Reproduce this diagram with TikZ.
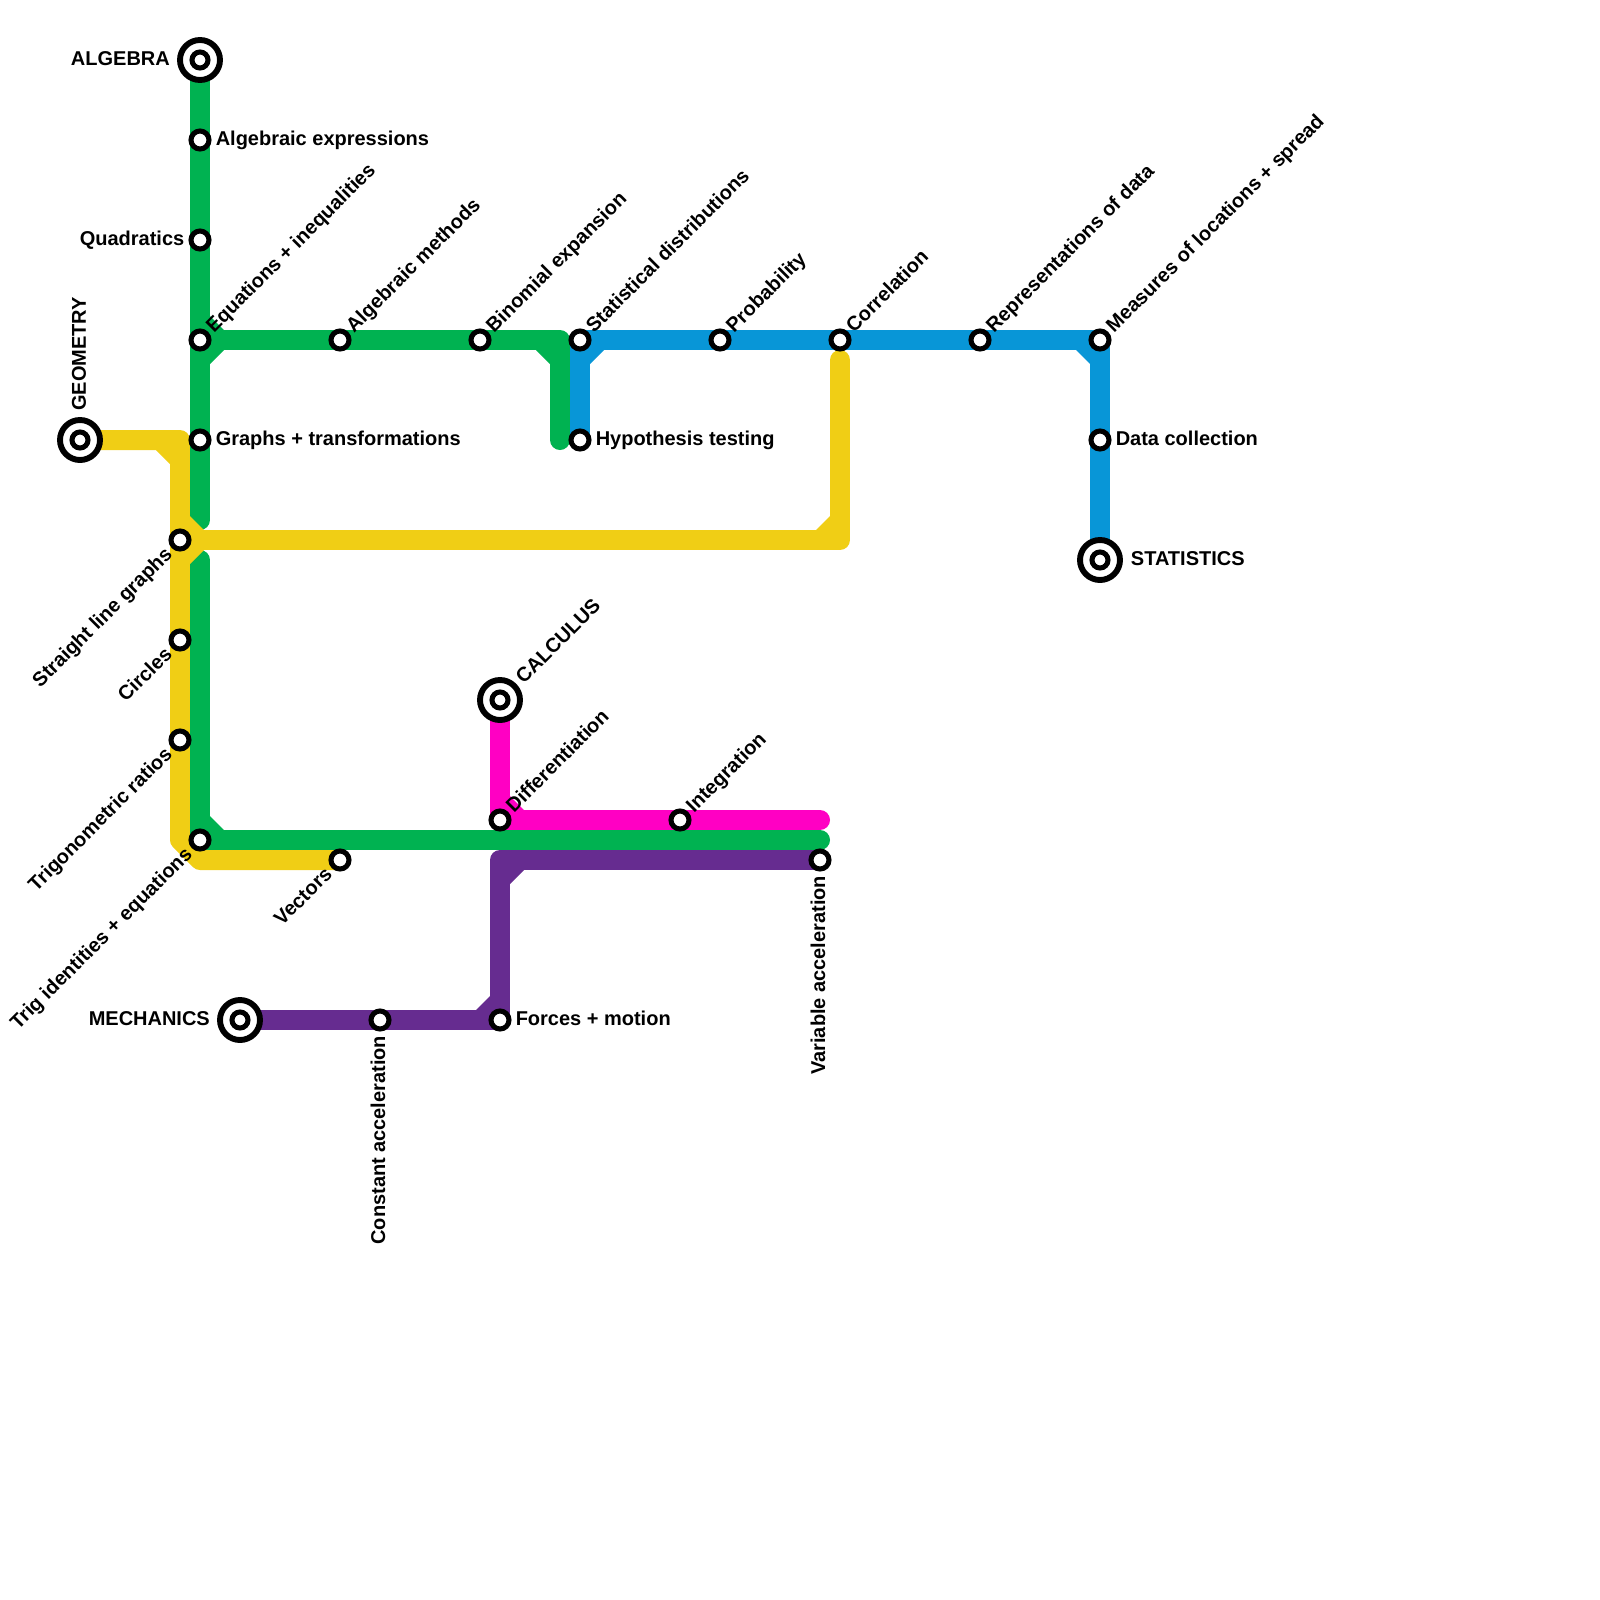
\documentclass[tikz,border=0pt]{standalone}
\usepackage{fontspec}
\setmainfont{Liberation Sans}
\usetikzlibrary{backgrounds}

\begin{document}
\begin{tikzpicture}[
    x=0.25cm, y=-0.25cm,
    every node/.style={font=\bfseries\fontsize{7.11}{8}\selectfont},
    stop/.style={draw, circle, fill=white, line width=1.8pt, inner sep=0pt, minimum size=0.225cm},
    hub/.style={draw, circle, fill=white, line width=1.8pt, inner sep=0pt, minimum size=0.2cm},
    ring/.style={draw, circle, fill=white, line width=2.1pt, inner sep=0pt, minimum size=0.5cm},
    tag/.style={inner sep=0pt, text height=0.175cm, text depth=0.05cm},
    toright/.style={tag, anchor=west, xshift=0.19cm},
    toleft/.style={tag, anchor=east, xshift=-0.19cm},
    upslant/.style={tag, xshift=0.128cm, yshift=0.12cm, rotate=45, anchor=west},
    downslant/.style={tag, xshift=-0.125cm, yshift=-0.145cm, rotate=45, anchor=east},
    downtext/.style={tag, yshift=-0.19cm, rotate=90, anchor=east},
    metro/.style={line width=0.25cm, line cap=round, line join=round},
    greenline/.style={metro, draw=linegreen},
    yellowline/.style={metro, draw=lineyellow},
    blueline/.style={metro, draw=lineblue},
    pinkline/.style={metro, draw=linepink},
    purpleline/.style={metro, draw=linepurple}
]

\definecolor{linegreen}{HTML}{00B251}
\definecolor{lineyellow}{HTML}{F0CE15}
\definecolor{lineblue}{HTML}{0896D7}
\definecolor{linepink}{HTML}{FF00C3}
\definecolor{linepurple}{HTML}{662C90}

\useasboundingbox (0,0) rectangle (80,80);

% Terminals
\node[ring] (algebraring) at (10,3) {};
\node[ring] (geometryring) at (4,22) {};
\node[ring] (statisticsring) at (55,28) {};
\node[ring] (calculusring) at (25,35) {};
\node[ring] (mechanicsring) at (12,51) {};
\node[hub] (algebra) at (10,3) {};
\node[hub] (geometry) at (4,22) {};
\node[hub] (statistics) at (55,28) {};
\node[hub] (calculus) at (25,35) {};
\node[hub] (mechanics) at (12,51) {};

% Stations
\node[stop] (expressions) at (10,7) {};
\node[stop] (quadratics) at (10,12) {};
\node[stop] (equations) at (10,17) {};
\node[stop] (graphs) at (10,22) {};
\node[stop] (methods) at (17,17) {};
\node[stop] (binomial) at (24,17) {};
\node[stop] (distributions) at (29,17) {};
\node[stop] (hypothesis) at (29,22) {};
\node[stop] (probability) at (36,17) {};
\node[stop] (correlation) at (42,17) {};
\node[stop] (representations) at (49,17) {};
\node[stop] (measures) at (55,17) {};
\node[stop] (collection) at (55,22) {};
\node[stop] (straight) at (9,27) {};
\node[stop] (circles) at (9,32) {};
\node[stop] (ratios) at (9,37) {};
\node[stop] (identities) at (10,42) {};
\node[stop] (vectors) at (17,43) {};
\node[stop] (differentiation) at (25,41) {};
\node[stop] (integration) at (34,41) {};
\node[stop] (variable) at (41,43) {};
\node[stop] (constant) at (19,51) {};
\node[stop] (forces) at (25,51) {};

% Bends and line ends
\coordinate (greengap) at (10,26);
\coordinate (greenback) at (10,28);
\coordinate (greencorner) at (28,17);
\coordinate (greenstub) at (28,22);
\coordinate (greenend) at (41,42);
\coordinate (yellowcorner) at (9,22);
\coordinate (yellowfoot) at (9,42);
\coordinate (yellowtoe) at (10,43);
\coordinate (yellowbend) at (42,27);
\coordinate (yellowend) at (42,18);
\coordinate (pinkcorner) at (25,41);
\coordinate (pinkend) at (41,41);
\coordinate (purpletop) at (25,43);

% Lines
\begin{scope}[on background layer]
\draw[blueline] (hypothesis.center) -- (distributions.center) -- (measures.center) -- (statistics.center);
\draw[purpleline] (mechanics.center) -- (forces.center) -- (purpletop) -- (variable.center);
\draw[pinkline] (calculus.center) -- (pinkcorner) -- (pinkend);
\draw[yellowline] (geometry.center) -- (yellowcorner) -- (yellowfoot) -- (yellowtoe) -- (vectors.center);
\draw[greenline] (algebra.center) -- (greengap);
\draw[greenline] (greenback) -- (identities.center) -- (greenend);
\draw[greenline] (equations.center) -- (greencorner) -- (greenstub);
\draw[yellowline] (straight.center) -- (yellowbend) -- (yellowend);
\foreach \px/\py/\dx/\dy/\col in {
    10.5/17.5/0.7/0.7/linegreen, 10.5/16.5/0.7/-0.7/linegreen, 27.5/17.5/-0.7/0.7/linegreen,
    10.5/41.5/0.7/-0.7/linegreen, 8.5/22.5/-0.7/0.7/lineyellow, 9.5/26.5/0.7/-0.7/lineyellow,
    9.5/27.5/0.7/0.7/lineyellow, 41.5/26.5/-0.7/-0.7/lineyellow, 29.5/17.5/0.7/0.7/lineblue,
    54.5/17.5/-0.7/0.7/lineblue, 25.5/40.5/0.7/-0.7/linepink, 25.5/43.5/0.7/0.7/linepurple,
    24.5/50.5/-0.7/-0.7/linepurple}
    \fill[\col] (\px,\py) -- ++(\dx,0) -- ++(-\dx,\dy) -- cycle;
\end{scope}

% Labels
\node[toleft, xshift=-0.18cm] (algebratext) at (algebra) {ALGEBRA};
\node[tag, xshift=0.01cm, yshift=0.36cm, rotate=90, anchor=west] (geometrytext) at (geometry) {GEOMETRY};
\node[toright, xshift=0.19cm] (statisticstext) at (statistics) {STATISTICS};
\node[tag, xshift=0.25cm, yshift=0.23cm, rotate=45, anchor=west] (calculustext) at (calculus) {CALCULUS};
\node[toleft, xshift=-0.18cm] (mechanicstext) at (mechanics) {MECHANICS};
\node[toright] (expressionstext) at (expressions) {Algebraic expressions};
\node[toleft] (quadraticstext) at (quadratics) {Quadratics};
\node[upslant] (equationstext) at (equations) {Equations + inequalities};
\node[toright] (graphstext) at (graphs) {Graphs + transformations};
\node[upslant] (methodstext) at (methods) {Algebraic methods};
\node[upslant] (binomialtext) at (binomial) {Binomial expansion};
\node[upslant] (distributionstext) at (distributions) {Statistical distributions};
\node[toright] (hypothesistext) at (hypothesis) {Hypothesis testing};
\node[upslant] (probabilitytext) at (probability) {Probability};
\node[upslant] (correlationtext) at (correlation) {Correlation};
\node[upslant] (representationstext) at (representations) {Representations of data};
\node[upslant] (measurestext) at (measures) {Measures of locations + spread};
\node[toright] (collectiontext) at (collection) {Data collection};
\node[downslant] (straighttext) at (straight) {Straight line graphs};
\node[downslant] (circlestext) at (circles) {Circles};
\node[downslant] (ratiostext) at (ratios) {Trigonometric ratios};
\node[downslant] (identitiestext) at (identities) {Trig identities + equations};
\node[downslant] (vectorstext) at (vectors) {Vectors};
\node[upslant] (differentiationtext) at (differentiation) {Differentiation};
\node[upslant] (integrationtext) at (integration) {Integration};
\node[downtext] (variabletext) at (variable) {Variable acceleration};
\node[downtext] (constanttext) at (constant) {Constant acceleration};
\node[toright] (forcestext) at (forces) {Forces + motion};

\end{tikzpicture}
\end{document}
